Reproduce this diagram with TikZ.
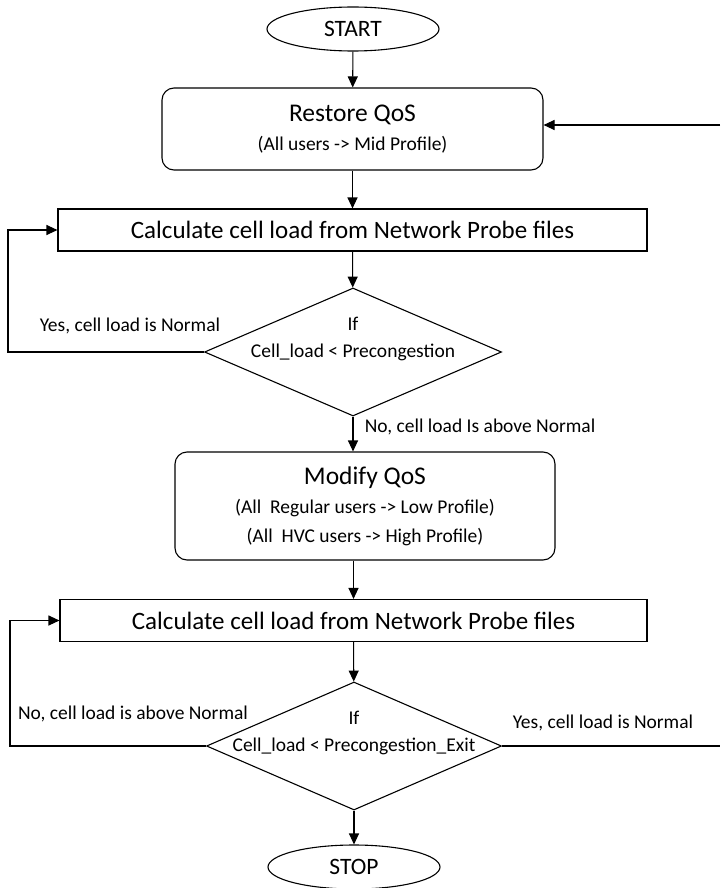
\documentclass[tikz,border=0pt]{standalone}
\usepackage{fontspec}
\setmainfont{Carlito}
\usetikzlibrary{shapes.geometric, arrows.meta}
\tikzset{>={Triangle[length=11pt,width=10pt]}}

\begin{document}
\begin{tikzpicture}[x=1pt, y=-1pt, line width=1.1pt,
    term/.style={draw, ellipse, minimum width=172, minimum height=44, inner sep=0pt, font=\fontsize{23.5}{27}\selectfont},
    roundbox/.style={draw, rounded corners=12pt, align=center, font=\fontsize{25.5}{29}\selectfont},
    calcbox/.style={draw, minimum height=42, font=\fontsize{25}{28}\selectfont},
    decision/.style={draw, diamond, inner sep=0pt},
    small/.style={font=\fontsize{19.5}{27}\selectfont}]
    \useasboundingbox (0,0) rectangle (720,888);
    % boxes
    \node[term] (start) at (353,29) {START};
    \node[roundbox, minimum width=381, minimum height=82] (restore) at (352.5,129)
        {Restore QoS\\{\fontsize{19.5}{29}\selectfont (All users -> Mid Profile)}};
    \node[calcbox, minimum width=589] (calc1) at (352.5,230) {Calculate cell load from Network Probe files};
    \node[decision, minimum width=297, minimum height=128] (dec1) at (353,352) {};
    \node[small, align=center] at (353,339) {If\\Cell\_load < Precongestion};
    \node[roundbox, minimum width=380, minimum height=108] (modify) at (365,506)
        {Modify QoS\\{\fontsize{19.5}{29}\selectfont (All\ \ Regular users -> Low Profile)}\\{\fontsize{19.5}{27}\selectfont (All\ \ HVC users -> High Profile)}};
    \node[calcbox, minimum width=587] (calc2) at (353.5,620.5) {Calculate cell load from Network Probe files};
    \node[decision, minimum width=295, minimum height=128] (dec2) at (354,746) {};
    \node[small, align=center] at (354,733) {If\\Cell\_load < Precongestion\_Exit};
    \node[term] (stop) at (354,867) {STOP};
    % free ends
    \coordinate (loop1) at (8,352);
    \coordinate (loop2) at (10,746);
    \coordinate (edge1) at (720,125);
    \coordinate (edge2) at (720,746);
    % connectors
    \draw[->] (start) -- (restore);
    \draw[->] (restore) -- (calc1);
    \draw[->] (calc1) -- (dec1);
    \draw[->] (dec1.south) -- (dec1.south |- modify.north);
    \draw[->] (modify.south -| calc2) -- (calc2);
    \draw[->] (calc2) -- (dec2);
    \draw[->] (dec2) -- (stop);
    \draw[->] (dec1.west) -- (loop1) |- (calc1);
    \draw[->] (dec2.west) -- (loop2) |- (calc2);
    \draw (dec2.east) -- (edge2);
    \draw[->] (edge1) -- (restore.east |- edge1);
    % labels
    \node[small] at (130,326) {Yes, cell load is Normal};
    \node[small, anchor=west] at (361,427) {No, cell load Is above Normal};
    \node[small] at (133,714) {No, cell load is above Normal};
    \node[small] at (603,723) {Yes, cell load is Normal};
\end{tikzpicture}
\end{document}
